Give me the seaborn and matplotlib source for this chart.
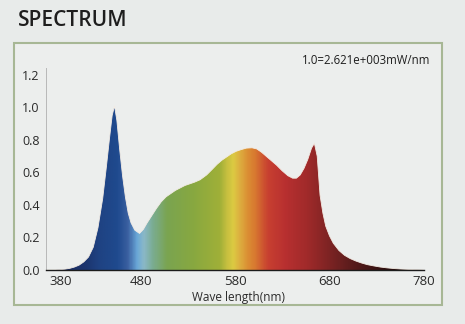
import numpy as np
import pandas as pd
import matplotlib
matplotlib.use("Agg")
import matplotlib.pyplot as plt
import matplotlib.transforms as mtransforms
from matplotlib.colors import LinearSegmentedColormap
from matplotlib.patches import Rectangle
import seaborn as sns

# ---- data ----
wavelength = [380, 390, 395, 400, 405, 410, 415, 420, 425, 430, 435, 440, 444, 447, 450,
              452.5, 455, 458, 461, 464, 467, 470, 474, 479, 483, 487, 492, 497, 502,
              507, 512, 517, 522, 527, 532, 537, 543, 550, 556, 561, 566, 571, 576,
              581, 586, 592, 598, 603, 608, 613, 618, 624, 630, 636, 641, 645, 649,
              653, 657, 661, 664, 667, 670, 673, 676, 680, 684, 690, 696, 702, 708,
              714, 720, 727, 734, 741, 748, 755, 762, 770, 780]
intensity = [0.0, 0.0, 0.002, 0.005, 0.01, 0.018, 0.03, 0.05, 0.08, 0.14, 0.26, 0.44, 0.64, 0.80, 0.95,
             1.01, 0.92, 0.74, 0.58, 0.45, 0.35, 0.29, 0.245, 0.225, 0.25, 0.29, 0.335, 0.38, 0.42,
             0.45, 0.47, 0.49, 0.505, 0.52, 0.53, 0.54, 0.555, 0.585, 0.62, 0.65, 0.675, 0.695, 0.715,
             0.73, 0.74, 0.75, 0.752, 0.745, 0.725, 0.70, 0.675, 0.645, 0.61, 0.58, 0.565, 0.565, 0.585,
             0.625, 0.68, 0.75, 0.78, 0.70, 0.46, 0.35, 0.27, 0.21, 0.165, 0.12, 0.09, 0.07, 0.055,
             0.043, 0.033, 0.025, 0.018, 0.013, 0.009, 0.006, 0.004, 0.002, 0.0]
x_ticks = [380, 480, 580, 680, 780]
y_ticks = [0.0, 0.2, 0.4, 0.6, 0.8, 1.0, 1.2]
y_tick_labels = ["0.0", "0.2", "0.4", "0.6", "0.8", "1.0", "1.2"]
title_text = "SPECTRUM"
note_text = "1.0=2.621e+003mW/nm"
x_label = "Wave length(nm)"

df = pd.DataFrame({"wavelength": wavelength, "intensity": intensity})

# spectral colour stops (style)
stops = [(380, "#1a2550"), (410, "#1c3168"), (423, "#1c3670"), (435, "#1f4282"),
         (455, "#1f4a8e"), (466, "#3a5fa0"), (476, "#6aa8d8"), (483, "#8ab8c8"),
         (493, "#7aac90"), (508, "#7aa450"), (536, "#88a840"), (564, "#a0b038"),
         (572, "#c8c040"), (578, "#dccb42"), (585, "#ddb040"), (593, "#db9034"),
         (601, "#d87a30"), (615, "#c84030"), (633, "#b83030"), (657, "#a02a2a"),
         (678, "#802424"), (704, "#5a1c1c"), (739, "#301010"), (780, "#140606")]
cmap = LinearSegmentedColormap.from_list(
    "spec", [((w - 380) / 400, c) for w, c in stops])

sns.set_style("white")
plt.rcParams["font.family"] = ["Open Sans", "DejaVu Sans"]

bg = "#e8ebea"
W, H = 465, 324
fig = plt.figure(figsize=(W / 100, H / 100), dpi=100, facecolor=bg)

# frame
frame = Rectangle((14 / W, 1 - 305 / H), 428 / W, 262 / H, transform=fig.transFigure,
                  facecolor="#eceeed", edgecolor="#a7b795", lw=1.5, zorder=-5)
fig.patches.append(frame)

ax = fig.add_axes([46 / W, 1 - 270 / H, 378 / W, 202 / H])
ax.set_zorder(2)
ax.set_facecolor("none")
ax.set_xlim(380, 780)
ax.set_ylim(0, 1.243)

# gradient fill clipped to the spectrum area
poly = ax.fill_between(df["wavelength"], 0, df["intensity"], color="none", lw=0)
grad = np.linspace(0, 1, 800).reshape(1, -1)
im = ax.imshow(grad, cmap=cmap, extent=[380, 780, 0, 1.243], aspect="auto",
               origin="lower", zorder=1, interpolation="bilinear")
path = poly.get_paths()[0]
im.set_clip_path(path, transform=ax.transData)

sns.lineplot(data=df, x="wavelength", y="intensity", ax=ax, color="#f3ece4", lw=0.6, zorder=2)

ax.set_xticks(x_ticks)
ax.set_xticklabels([str(v) for v in x_ticks])
ax.set_yticks(y_ticks)
ax.set_yticklabels(y_tick_labels)
ax.tick_params(axis="x", length=0, pad=3.5, labelsize=9.5, labelcolor="#2a2a2a")
ax.tick_params(axis="y", length=2, width=0.6, color="#b5b5b5", pad=2.5, labelsize=9, labelcolor="#2a2a2a")
ax.set_xlabel(x_label, fontsize=8.5, color="#2a2a2a", labelpad=1)
ax.xaxis.set_label_coords(0.51, -0.105)
ax.set_ylabel("")

for s in ["top", "right"]:
    ax.spines[s].set_visible(False)
ax.spines["left"].set_color("#b8b8b8")
ax.spines["left"].set_linewidth(0.7)
ax.spines["bottom"].set_color("#1c1c1c")
ax.spines["bottom"].set_linewidth(1.0)
ax.spines["bottom"].set_zorder(3)

# shift first x label to avoid the y label (as in reference)
lbl = ax.get_xticklabels()[0]
lbl.set_transform(lbl.get_transform() + mtransforms.ScaledTranslation(15 / 100, 0, fig.dpi_scale_trans))

fig.text(18 / W, 1 - 21 / H, title_text, fontsize=15, color="#1e1e1e", va="center", ha="left",
         fontweight="semibold")
fig.text(430 / W, 1 - 60 / H, note_text, fontsize=8.3, color="#1e1e1e", va="center", ha="right")

fig.savefig("out.png", dpi=100, facecolor=bg)
